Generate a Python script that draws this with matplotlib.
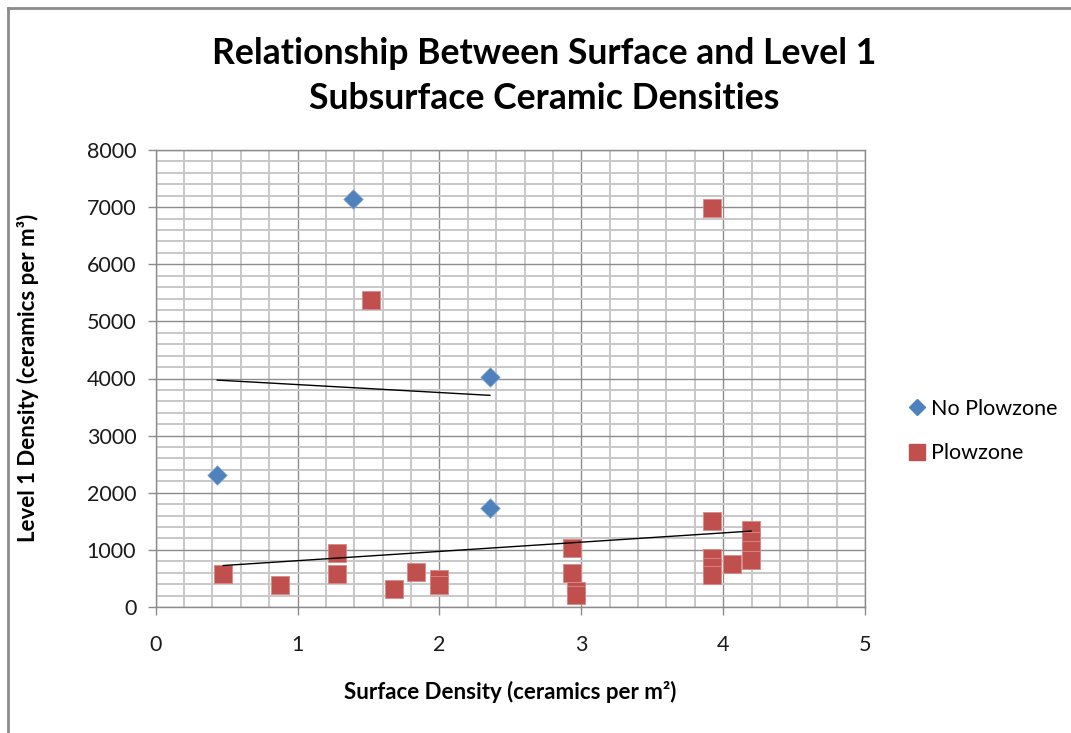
import numpy as np
import matplotlib
matplotlib.use("Agg")
import matplotlib.pyplot as plt
from matplotlib.lines import Line2D
from matplotlib.ticker import MultipleLocator

plt.rcParams['font.family'] = ['Lato', 'DejaVu Sans']

title = "Relationship Between Surface and Level 1\nSubsurface Ceramic Densities"
xlabel = "Surface Density (ceramics per m²)"
ylabel = "Level 1 Density (ceramics per m³)"
series_names = ['No Plowzone', 'Plowzone']

no_plow_x = [1.393, 2.356, 0.434, 2.356]
no_plow_y = [7150, 4020, 2312, 1730]

plow_x = [0.476, 0.876, 1.276, 1.276, 1.515, 1.679, 1.837, 1.997, 1.997,
          2.935, 2.935, 2.96, 2.96, 3.92, 3.92, 3.92, 3.92, 3.92,
          4.062, 4.197, 4.197, 4.197, 4.197]
plow_y = [580, 378, 946, 580, 5371, 319, 610, 488, 383,
          1028, 601, 284, 209, 6990, 1502, 866, 700, 552,
          761, 1347, 1150, 1000, 819]

# linear trendlines as shown in the chart (end points)
no_plow_trend_x = [0.434, 2.356]
no_plow_trend_y = [3972, 3705]
plow_trend_x = [0.476, 4.197]
plow_trend_y = [726, 1329]

xticks = [0, 1, 2, 3, 4, 5]
yticks = [0, 1000, 2000, 3000, 4000, 5000, 6000, 7000, 8000]

W, H = 1071, 733
fig = plt.figure(figsize=(W / 100, H / 100), dpi=100)
ax = fig.add_axes([155.7 / W, (H - 607) / H, (865 - 155.7) / W, (607 - 150) / H])

blue = '#4F81BD'
red = '#C0504D'

ax.set_xlim(0, 5)
ax.set_ylim(0, 8000)
ax.set_xticks(xticks)
ax.set_yticks(yticks)
ax.xaxis.set_minor_locator(MultipleLocator(0.2))
ax.yaxis.set_minor_locator(MultipleLocator(200))
ax.grid(True, which='minor', color='#c8c8c8', lw=1.4, zorder=0)
ax.grid(True, which='major', color='#8c8c8c', lw=1.0, zorder=0)
ax.set_axisbelow(True)
for s in ax.spines.values():
    s.set_color('#8c8c8c')
    s.set_linewidth(1.0)
ax.tick_params(axis='both', which='major', direction='out', length=6, width=1,
               color='#8c8c8c', labelsize=15.5, labelcolor='#1a1a1a')
ax.tick_params(axis='x', pad=14)
ax.tick_params(axis='y', pad=8)
ax.tick_params(which='minor', length=0)

ax.scatter(plow_x, plow_y, marker='s', s=12.8 ** 2, color=red,
           edgecolor='#d98a88', linewidth=0.6, zorder=3)
ax.scatter(no_plow_x, no_plow_y, marker='D', s=10 ** 2, color=blue,
           edgecolor='#8fb0d8', linewidth=0.5, zorder=3)

ax.plot(no_plow_trend_x, no_plow_trend_y, color='black', lw=1.0, zorder=4)
ax.plot(plow_trend_x, plow_trend_y, color='black', lw=1.0, zorder=4)

fig.text(544 / W, 1 - 76 / H, title, ha='center', va='center',
         fontsize=25.6, fontweight='bold', linespacing=1.42, color='black')
fig.text(510 / W, 1 - 692 / H, xlabel, ha='center', va='center',
         fontsize=16, fontweight='bold')
fig.text(28 / W, 1 - 378 / H, ylabel, ha='center', va='center', rotation=90,
         fontsize=16, fontweight='bold')

handles = [Line2D([], [], marker='D', ls='none', color=blue, markersize=8),
           Line2D([], [], marker='s', ls='none', color=red, markersize=11)]
fig.legend(handles, series_names, loc='center left',
           bbox_to_anchor=(884 / W, 1 - 431 / H), frameon=False,
           fontsize=15.5, handletextpad=0.0, labelspacing=1.15, handlelength=1.3)

# chart border
fig.add_artist(Line2D([7.5 / W, 7.5 / W], [0, 1 - 7.5 / H], transform=fig.transFigure,
                      color='#8c8c8c', lw=2))
fig.add_artist(Line2D([7.5 / W, 1], [1 - 7.5 / H, 1 - 7.5 / H], transform=fig.transFigure,
                      color='#8c8c8c', lw=2))

fig.savefig('out.png', dpi=100)
